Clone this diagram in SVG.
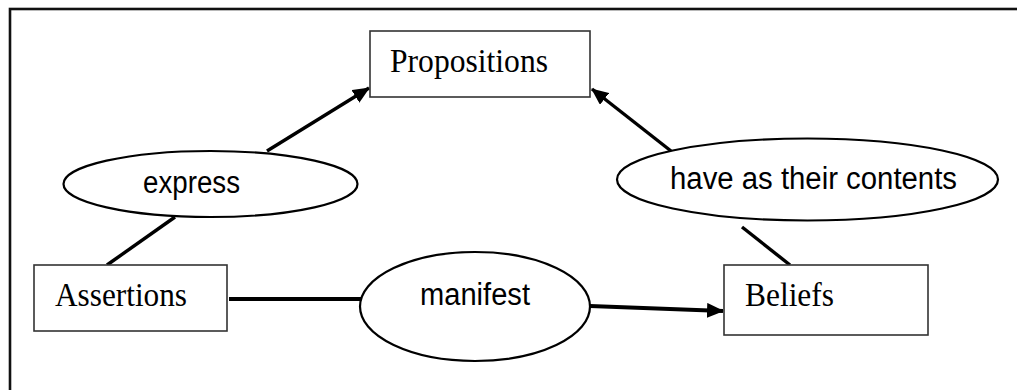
<svg xmlns="http://www.w3.org/2000/svg" width="1017" height="390" viewBox="0 0 1017 390">
  <style>
    .box { fill: #fff; stroke: #333; stroke-width: 1.6; }
    .oval { fill: #fff; stroke: #000; stroke-width: 2.2; }
    .serif { font-family: "Liberation Serif", "Times New Roman", serif; font-size: 34px; fill: #000; }
    .sans { font-family: "Liberation Sans", Arial, sans-serif; font-size: 31px; fill: #000; }
    .conn { stroke: #000; fill: none; stroke-linecap: butt; }
  </style>
  <defs>
    <marker id="arrow" viewBox="0 0 17 15" refX="16" refY="7.5" markerWidth="17" markerHeight="15" markerUnits="userSpaceOnUse" orient="auto">
      <path d="M0,0 L17,7.5 L0,15 Z" fill="#000"/>
    </marker>
  </defs>
  <rect x="10" y="9" width="1030" height="420" fill="none" stroke="#111" stroke-width="2.6"/>

  <g id="connectors">
    <line class="conn" x1="267" y1="151" x2="369" y2="88" stroke-width="3.4" marker-end="url(#arrow)"/>
    <line class="conn" x1="107" y1="265" x2="175" y2="217" stroke-width="3.4"/>
    <line class="conn" x1="671" y1="151" x2="592" y2="89" stroke-width="3.4" marker-end="url(#arrow)"/>
    <line class="conn" x1="742" y1="227" x2="790" y2="265" stroke-width="3.4"/>
    <line class="conn" x1="229" y1="299" x2="362" y2="299" stroke-width="4"/>
    <line class="conn" x1="590" y1="306" x2="723" y2="311" stroke-width="4" marker-end="url(#arrow)"/>
  </g>

  <g id="propositions">
    <rect class="box" x="370" y="31" width="220" height="66"/>
    <text class="serif" x="390" y="72" textLength="158" lengthAdjust="spacingAndGlyphs">Propositions</text>
  </g>
  <g id="express">
    <ellipse class="oval" cx="210.5" cy="184" rx="147" ry="33"/>
    <text class="sans" x="143" y="193" textLength="97" lengthAdjust="spacingAndGlyphs">express</text>
  </g>
  <g id="have-as-their-contents">
    <ellipse class="oval" cx="807.5" cy="179.5" rx="190.5" ry="41"/>
    <text class="sans" x="670" y="189" textLength="287" lengthAdjust="spacingAndGlyphs">have as their contents</text>
  </g>
  <g id="assertions">
    <rect class="box" x="34" y="265" width="193" height="66"/>
    <text class="serif" x="55" y="306" textLength="132" lengthAdjust="spacingAndGlyphs">Assertions</text>
  </g>
  <g id="manifest">
    <ellipse class="oval" cx="475" cy="306.5" rx="115" ry="54.5"/>
    <text class="sans" x="420" y="305" textLength="110" lengthAdjust="spacingAndGlyphs">manifest</text>
  </g>
  <g id="beliefs">
    <rect class="box" x="724" y="265" width="204" height="70"/>
    <text class="serif" x="745" y="306" textLength="89" lengthAdjust="spacingAndGlyphs">Beliefs</text>
  </g>
</svg>
